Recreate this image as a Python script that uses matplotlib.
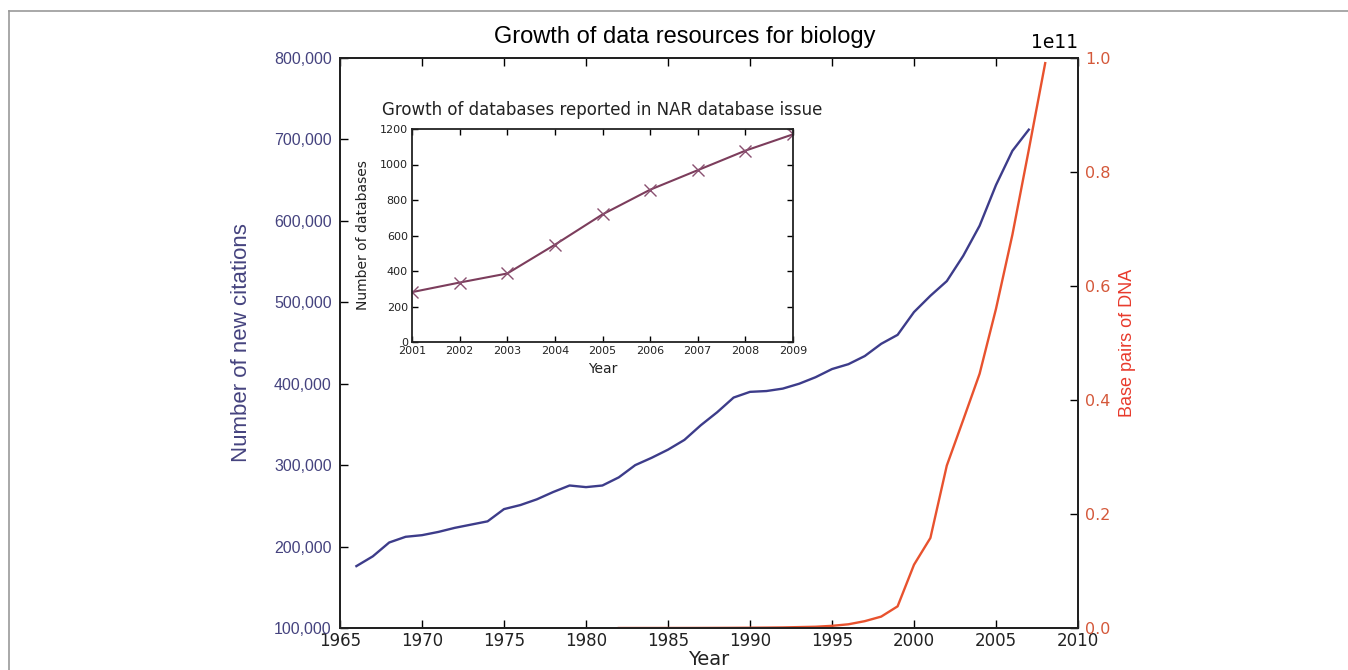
"""
Growth of data resources for biology: citations vs. GenBank base pairs,
with an inset of NAR database counts.
"""
import matplotlib
matplotlib.use("Agg")
import matplotlib.pyplot as plt
import matplotlib.ticker as mticker
from matplotlib.lines import Line2D

# --- data -------------------------------------------------------------
cite_years = list(range(1966, 2008))
citations = [
    176000, 188000, 205000, 212000, 214000, 218000, 223000, 227000, 231000,
    246000, 251000, 258000, 267000, 275000, 273000, 275000, 285000, 300000,
    309000, 319000, 331000, 349000, 365000, 383000, 390000, 391000, 394000,
    400000, 408000, 418000, 424000, 434000, 449000, 460000, 488000, 508000,
    526000, 557000, 594000, 644000, 686000, 712000,
]

dna_years = list(range(1982, 2009))
base_pairs = [
    6.8e5, 2.3e6, 4.0e6, 5.2e6, 9.6e6, 1.5e7, 2.4e7, 3.4e7, 4.9e7, 7.2e7,
    1.0e8, 1.6e8, 2.2e8, 3.8e8, 6.5e8, 1.2e9, 2.0e9, 3.8e9, 1.11e10,
    1.58e10, 2.85e10, 3.65e10, 4.46e10, 5.60e10, 6.90e10, 8.39e10, 9.91e10,
]

nar_years = list(range(2001, 2010))
nar_databases = [281, 335, 386, 548, 719, 858, 968, 1078, 1170]

# --- style ------------------------------------------------------------
BLUE = "#3d3c8a"
BLUE_TXT = "#45437f"
RED = "#e8522e"
RED_TICK = "#d4583a"
RED_LABEL = "#e83a2c"
MAROON = "#7c3d5c"
DARK = "#222222"
ARIAL = ["Liberation Sans", "DejaVu Sans"]

fig = plt.figure(figsize=(13.48, 6.70), dpi=100)
fig.patch.set_facecolor("white")

# light grey frame (top and left edge of the original panel)
fig.add_artist(Line2D([9 / 1348, 1.0], [1 - 11 / 670] * 2, color="#999999",
                      linewidth=1.2, transform=fig.transFigure))
fig.add_artist(Line2D([9 / 1348] * 2, [0.0, 1 - 11 / 670], color="#999999",
                      linewidth=1.2, transform=fig.transFigure))

ax = fig.add_axes([340 / 1348, 1 - 628 / 670, 738 / 1348, 570 / 670])
ax.plot(cite_years, citations, color=BLUE, linewidth=1.7)
ax.set_xlim(1965, 2010)
ax.set_ylim(100000, 800000)
ax.xaxis.set_major_locator(mticker.MultipleLocator(5))
ax.yaxis.set_major_locator(mticker.MultipleLocator(100000))
ax.yaxis.set_major_formatter(mticker.FuncFormatter(lambda v, _: f"{int(v):,}"))
ax.tick_params(axis="x", direction="in", top=True, length=6, width=1,
               labelsize=12, labelcolor=DARK, pad=3)
ax.tick_params(axis="y", direction="in", right=False, length=6, width=1,
               labelsize=11.5, labelcolor=BLUE_TXT, pad=6)
for lbl in ax.get_yticklabels():
    lbl.set_family(ARIAL)
for spine in ax.spines.values():
    spine.set_linewidth(1.4)
    spine.set_color(DARK)
ax.set_xlabel("Year", fontsize=14, color=DARK, labelpad=0)
ax.set_ylabel("Number of new citations", fontsize=16, color=BLUE_TXT,
              family=ARIAL, labelpad=16)
fig.text(685 / 1348, 1 - 37 / 670, "Growth of data resources for biology",
         fontsize=17, family=ARIAL, color="black", ha="center", va="center")

ax2 = ax.twinx()
ax2.plot(dna_years, base_pairs, color=RED, linewidth=1.7)
ax2.set_ylim(0, 1e11)
ax2.yaxis.set_major_locator(mticker.MultipleLocator(0.2e11))
ax2.tick_params(axis="y", direction="in", length=6, width=1,
                labelsize=11.5, labelcolor=RED_TICK, pad=5)
ax2.yaxis.OFFSETTEXTPAD = 7
ax2.yaxis.get_offset_text().set_fontsize(13.5)
ax2.yaxis.get_offset_text().set_color("black")
ax2.set_ylabel("Base pairs of DNA", fontsize=13, color=RED_LABEL,
               family=ARIAL, labelpad=6)
for spine in ax2.spines.values():
    spine.set_linewidth(1.4)
    spine.set_color(DARK)

# inset: NAR database issue
axi = fig.add_axes([412 / 1348, 1 - 342 / 670, 381 / 1348, 213 / 670])
axi.set_facecolor("white")
axi.plot(nar_years, nar_databases, color=MAROON, linewidth=1.5,
         marker="x", markersize=8, markeredgecolor="#8a5070")
axi.set_xlim(2001, 2009)
axi.set_ylim(0, 1200)
axi.xaxis.set_major_locator(mticker.MultipleLocator(1))
axi.yaxis.set_major_locator(mticker.MultipleLocator(200))
axi.tick_params(direction="in", top=True, right=True, length=4, width=1,
                labelsize=8, labelcolor=DARK, pad=3)
for spine in axi.spines.values():
    spine.set_linewidth(1.3)
    spine.set_color(DARK)
axi.set_xlabel("Year", fontsize=10, color=DARK, labelpad=4)
axi.set_ylabel("Number of databases", fontsize=10, color=DARK, labelpad=7)
axi.set_title("Growth of databases reported in NAR database issue",
              fontsize=12, color=DARK, pad=10)

fig.savefig("out.png", dpi=100, facecolor="white")
